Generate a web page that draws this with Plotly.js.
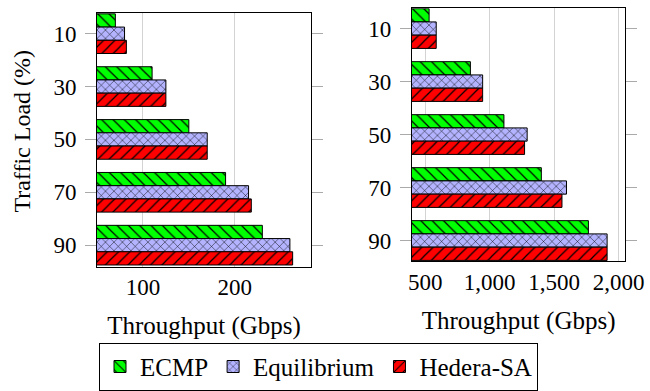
<!DOCTYPE html>
<html>
<head>
<meta charset="utf-8">
<script src="https://cdn.plot.ly/plotly-3.0.1.min.js"></script>
<style>html,body{margin:0;padding:0;background:#fff;}#chart{width:650px;height:391px;}</style>
</head>
<body>
<div id="chart"></div>
<script>
// Data
const loads = [10, 30, 50, 70, 90];
const seriesNames = ["ECMP", "Equilibrium", "Hedera-SA"];
const leftECMP = [70, 110, 150, 190, 230];
const leftEquilibrium = [80, 125, 170, 215, 260];
const leftHedera = [82, 125, 170, 218, 263];
const rightECMP = [530, 850, 1110, 1400, 1765];
const rightEquilibrium = [585, 945, 1290, 1595, 1910];
const rightHedera = [585, 945, 1270, 1560, 1910];
const leftXTicks = [100, 200];
const rightXTicks = [500, 1000, 1500, 2000];
const yTitle = "Traffic Load (%)";
const xTitle = "Throughput (Gbps)";

const colors = ["#00ff00", "#b3b3ff", "#ff0000"];
const shapes = ["\\", "x", "/"];
const patSizes = [8, 6, 8];
const serif = "Liberation Serif";

function mk(i, vals, xa, ya, showleg) {
  return {
    type: "bar", orientation: "h",
    name: seriesNames[i], y: loads, x: vals,
    xaxis: xa, yaxis: ya, showlegend: showleg, legendgroup: seriesNames[i],
    marker: {
      color: colors[i],
      line: {color: "#000", width: 1},
      pattern: {shape: shapes[i], fgcolor: "#000", bgcolor: colors[i], size: patSizes[i], solidity: 0.15, fillmode: "replace"}
    },
    hoverinfo: "skip"
  };
}

const data = [
  mk(0, leftECMP, "x", "y", true),
  mk(1, leftEquilibrium, "x", "y", true),
  mk(2, leftHedera, "x", "y", true),
  mk(0, rightECMP, "x2", "y2", false),
  mk(1, rightEquilibrium, "x2", "y2", false),
  mk(2, rightHedera, "x2", "y2", false)
];

const yCommon = {
  range: [98.2, 2.2], tickvals: loads, ticks: "outside", ticklen: 11, tickcolor: "#aaa", tickwidth: 1,
  ticklabelstandoff: 4,
  showline: true, linecolor: "#000", linewidth: 1, mirror: "ticks", showgrid: false, zeroline: false,
  tickfont: {family: serif, size: 23, color: "#000"}, fixedrange: true
};
const xCommon = {
  showline: true, linecolor: "#000", linewidth: 1, mirror: true, showgrid: true, gridcolor: "#d3d3d3", gridwidth: 1,
  zeroline: false, ticks: "", tickfont: {family: serif, size: 23, color: "#000"}, tickformat: ",",
  title: {text: xTitle, font: {family: serif, size: 25, color: "#000"}, standoff: 17}
};

const layout = {
  width: 650, height: 391,
  margin: {l: 0, r: 0, t: 0, b: 0},
  paper_bgcolor: "#fff", plot_bgcolor: "#fff",
  font: {family: serif, color: "#000"},
  barmode: "group", bargap: 0.25, bargroupgap: 0,
  xaxis: Object.assign({}, xCommon, {domain: [0.1492, 0.4785], range: [50, 283], tickvals: leftXTicks, anchor: "y"}),
  xaxis2: Object.assign({}, xCommon, {domain: [0.6338, 0.962], range: [397, 2051], tickvals: rightXTicks, anchor: "y2"}),
  yaxis: Object.assign({}, yCommon, {domain: [0.3051, 0.966], anchor: "x"}),
  yaxis2: Object.assign({}, yCommon, {domain: [0.3205, 0.9788], anchor: "x2", range: [97.7, 2.3]}),
  annotations: [{
    text: yTitle, xref: "paper", yref: "paper", x: 22 / 650, y: 1 - 134 / 391,
    xanchor: "center", yanchor: "middle", textangle: -90, showarrow: false,
    font: {family: serif, size: 24, color: "#000"}
  }],
  legend: {
    orientation: "h", x: 0.49, xanchor: "center", y: 0.1074, yanchor: "top",
    bordercolor: "#000", borderwidth: 1, bgcolor: "#fff",
    font: {family: serif, size: 25, color: "#000"}, itemwidth: 30, traceorder: "normal"
  },
  showlegend: true
};

Plotly.newPlot("chart", data, layout, {staticPlot: true, displayModeBar: false});
</script>
</body>
</html>
